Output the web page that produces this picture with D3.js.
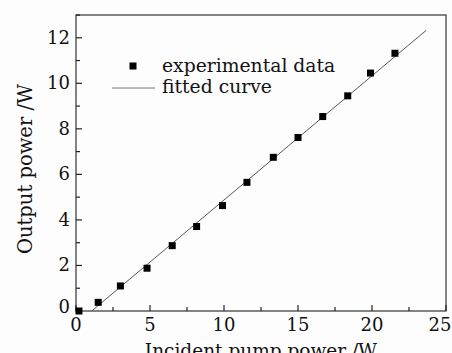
<!DOCTYPE html>
<html><head><meta charset="utf-8">
<script src="https://cdn.jsdelivr.net/npm/d3@7"></script>
<style>body{margin:0;background:#fdfdfd}svg{display:block}</style>
</head><body>
<svg id="c" width="452" height="353"></svg>
<script>
const xData = [0.2, 1.5, 3.0, 4.8, 6.5, 8.15, 9.9, 11.55, 13.33, 15.0, 16.67, 18.36, 19.9, 21.55];
const yData = [0.0, 0.38, 1.1, 1.88, 2.87, 3.71, 4.63, 5.65, 6.75, 7.62, 8.54, 9.45, 10.45, 11.32];
const fitX = [1.06, 23.65];
const fitY = [0, 12.32];
const xTicks = [0, 5, 10, 15, 20, 25];
const yTicks = [0, 2, 4, 6, 8, 10, 12];
const legendLabels = ["experimental data", "fitted curve"];
const xTitle = "Incident pump power /W";
const yTitle = "Output power /W";

const svg = d3.select("#c");
const L = 76, R = 446, T = 15, B = 311;
const x = d3.scaleLinear().domain([0, 25]).range([L, R]);
const y = d3.scaleLinear().domain([0, 13]).range([B, T]);
const font = "'DejaVu Serif', serif";

svg.append("rect").attr("x",0).attr("y",0).attr("width",452).attr("height",353).attr("fill","#fdfdfd");

// frame
svg.append("rect").attr("x",L).attr("y",T).attr("width",R-L).attr("height",B-T)
  .attr("fill","none").attr("stroke","#333").attr("stroke-width",1.2);

// minor ticks
const xMinor = d3.range(0, 25.01, 2.5);
const yMinor = d3.range(0, 13.01, 1);
const g = svg.append("g").attr("stroke","#222").attr("stroke-width",1.2);
xMinor.forEach(v => {
  const major = xTicks.includes(v);
  g.append("line").attr("x1",x(v)).attr("x2",x(v)).attr("y1",B).attr("y2",B-(major?6:4));
});
yMinor.forEach(v => {
  const major = yTicks.includes(v);
  g.append("line").attr("x1",L).attr("x2",L+(major?6:4)).attr("y1",y(v)).attr("y2",y(v));
});

// tick labels
svg.selectAll(".xt").data(xTicks).enter().append("text")
  .attr("x", d => d === 25 ? x(d) - 6 : x(d)).attr("y", 331).attr("text-anchor","middle")
  .attr("font-family",font).attr("font-size",18).attr("fill","#111").text(d => d);
svg.selectAll(".yt").data(yTicks).enter().append("text")
  .attr("x", 70).attr("y", d => y(d) + 6 - (d === 0 ? 4 : 0)).attr("text-anchor","end")
  .attr("font-family",font).attr("font-size",18).attr("fill","#111").text(d => d);

// titles
svg.append("text").attr("x", 261).attr("y", 357).attr("text-anchor","middle")
  .attr("font-family",font).attr("font-size",18.5).attr("fill","#111").text(xTitle);
svg.append("text").attr("transform","translate(32,169) rotate(-90)").attr("text-anchor","middle")
  .attr("font-family",font).attr("font-size",19.5).attr("fill","#111").text(yTitle);

// fitted line
svg.append("line").attr("x1",x(fitX[0])).attr("y1",y(fitY[0])).attr("x2",x(fitX[1])).attr("y2",y(fitY[1]))
  .attr("stroke","#555").attr("stroke-width",1);

// points
svg.selectAll(".pt").data(xData).enter().append("rect")
  .attr("x", (d,i) => x(d)-3.5).attr("y", (d,i) => y(yData[i])-3.5)
  .attr("width",7).attr("height",7).attr("fill","#000");

// legend
svg.append("rect").attr("x",129.5).attr("y",62.5).attr("width",7).attr("height",7).attr("fill","#000");
svg.append("line").attr("x1",112).attr("x2",155).attr("y1",88).attr("y2",88).attr("stroke","#777").attr("stroke-width",1);
svg.append("text").attr("x",162).attr("y",72).attr("font-family",font).attr("font-size",18.75).attr("fill","#111").text(legendLabels[0]);
svg.append("text").attr("x",162).attr("y",93).attr("font-family",font).attr("font-size",18.75).attr("fill","#111").text(legendLabels[1]);
</script>
</body></html>
